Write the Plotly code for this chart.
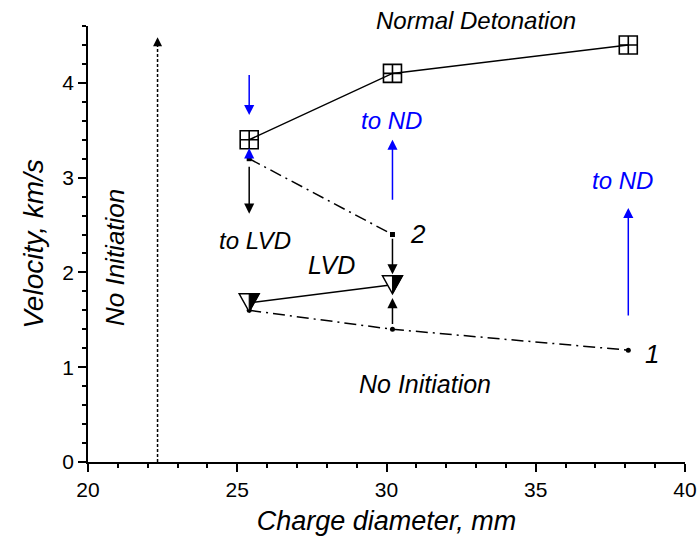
import plotly.graph_objects as go

# ---- data ----
nd_d = [25.4, 30.2, 38.1]
nd_v = [3.40, 4.10, 4.40]

lvd_d = [25.4, 30.2]
lvd_v = [1.68, 1.87]

c2_d = [25.4, 30.2]
c2_v = [3.20, 2.40]

c1_d = [25.4, 30.2, 38.1]
c1_v = [1.60, 1.40, 1.18]

no_init_d = 22.33
no_init_top = 4.48

FONT = "Liberation Sans, Arial, sans-serif"
BLUE = "#0000ff"

fig = go.Figure()

dashdot = "12px,5px,2px,5px"
fig.add_trace(go.Scatter(x=c2_d, y=c2_v, mode="lines+markers",
                         line=dict(color="black", width=1.5, dash=dashdot),
                         marker=dict(symbol="square", size=5, color="black")))
fig.add_trace(go.Scatter(x=c1_d, y=c1_v, mode="lines+markers",
                         line=dict(color="black", width=1.5, dash=dashdot),
                         marker=dict(symbol="circle", size=5, color="black")))
fig.add_trace(go.Scatter(x=lvd_d, y=lvd_v, mode="lines",
                         line=dict(color="black", width=1.5)))
fig.add_trace(go.Scatter(x=nd_d, y=nd_v, mode="lines+markers",
                         line=dict(color="black", width=1.5),
                         marker=dict(symbol="square-cross-open", size=18,
                                     color="black", line=dict(width=1.6))))
# dotted "no initiation" line
fig.add_trace(go.Scatter(x=[no_init_d, no_init_d], y=[0, no_init_top - 0.05], mode="lines",
                         line=dict(color="black", width=1.5, dash="3px,2px")))

shapes = []
for d, v in zip(lvd_d, lvd_v):
    shapes.append(dict(type="path", xref="x", yref="y", xsizemode="pixel", ysizemode="pixel",
                       xanchor=d, yanchor=v, path="M-10,9 L10,9 L0,-9 Z",
                       fillcolor="white", line=dict(color="black", width=1.5), layer="above"))
    shapes.append(dict(type="path", xref="x", yref="y", xsizemode="pixel", ysizemode="pixel",
                       xanchor=d, yanchor=v, path="M0,9 L10,9 L0,-9 Z",
                       fillcolor="black", line=dict(color="black", width=1), layer="above"))

def arrow(x, y0, y1, color, head=2, size=1.35):
    return dict(x=x, y=y1, ax=x, ay=y0, xref="x", yref="y", axref="x", ayref="y",
                text="", showarrow=True, arrowhead=head, arrowsize=size,
                arrowwidth=1.5, arrowcolor=color, standoff=0, startstandoff=0)

annotations = [
    arrow(no_init_d, no_init_top - 0.1, no_init_top, "black", 2, 1.2),
    arrow(25.4, 4.10, 3.66, BLUE),
    arrow(25.4, 3.20, 3.31, BLUE),
    arrow(30.2, 2.75, 3.40, BLUE),
    arrow(38.1, 1.53, 2.68, BLUE),
    arrow(25.4, 3.13, 2.62, "black"),
    arrow(30.2, 2.37, 1.98, "black"),
    arrow(30.2, 1.44, 1.73, "black"),
]

def label(x, y, t, color="black", size=24, angle=0):
    return dict(x=x, y=y, xref="x", yref="y", text="<i>" + t + "</i>", showarrow=False,
                font=dict(family=FONT, size=size, color=color), textangle=angle)

annotations += [
    dict(x=(33.0 - 20) / 20, y=1.0115, xref="x domain", yref="y domain",
         xanchor="center", yanchor="middle",
         text="<i>Normal Detonation</i>", showarrow=False,
         font=dict(family=FONT, size=24, color="black")),
    label(30.18, 3.6, "to ND", BLUE, 24),
    label(37.9, 2.97, "to ND", BLUE, 24),
    label(25.6, 2.34, "to LVD", size=24),
    label(28.17, 2.08, "LVD", size=25),
    label(31.06, 2.41, "2", size=26),
    label(38.88, 1.14, "1", size=26),
    label(31.3, 0.82, "No Initiation", size=25),
    label(20.93, 2.16, "No Initiation", size=26, angle=-90),
]

fig.update_layout(
    width=697, height=545,
    margin=dict(l=88, r=12, t=26, b=83),
    paper_bgcolor="white", plot_bgcolor="white",
    showlegend=False,
    shapes=shapes, annotations=annotations,
    font=dict(family=FONT, size=21, color="black"),
)
fig.update_xaxes(range=[20, 40], tick0=20, dtick=5, showgrid=False, zeroline=False,
                 automargin=False,
                 showline=True, linecolor="black", linewidth=1.5,
                 ticks="outside", ticklen=8, tickwidth=1.5, tickcolor="black",
                 minor=dict(dtick=1, ticks="outside", ticklen=4, tickwidth=1.5, tickcolor="black", showgrid=False),
                 title=dict(text="<i>Charge diameter, mm</i>", font=dict(size=27), standoff=11),
                 tickfont=dict(size=21))
fig.update_yaxes(range=[0, 4.6], tick0=0, dtick=1, showgrid=False, zeroline=False,
                 automargin=False,
                 showline=True, linecolor="black", linewidth=1.5,
                 ticks="outside", ticklen=8, tickwidth=1.5, tickcolor="black",
                 minor=dict(dtick=0.2, ticks="outside", ticklen=4, tickwidth=1.5, tickcolor="black", showgrid=False),
                 title=dict(text="<i>Velocity, km/s</i>", font=dict(size=28), standoff=11),
                 tickfont=dict(size=21))

fig.write_html("out.html")
